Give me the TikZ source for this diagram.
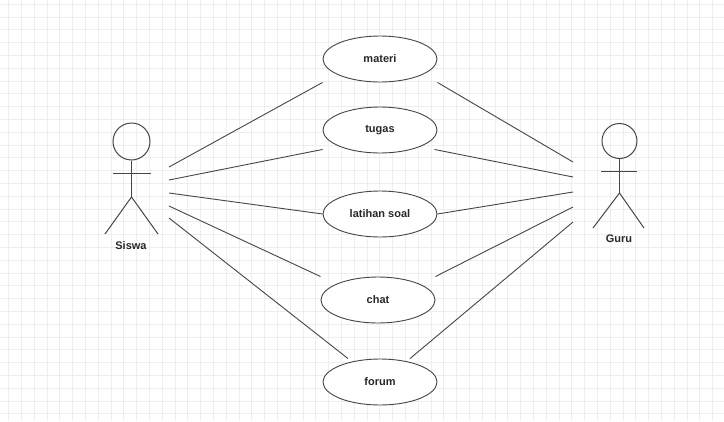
\documentclass[tikz,border=0pt]{standalone}
\usepackage{fontspec}
\setmainfont{Liberation Sans}
\usetikzlibrary{shapes.geometric}
\definecolor{gridc}{RGB}{238,238,238}
\definecolor{linec}{RGB}{70,70,70}
\definecolor{txtc}{RGB}{40,40,40}
\tikzset{
  usecase/.style={ellipse, draw=linec, line width=0.9pt, fill=white, minimum width=114pt, minimum height=46pt, inner sep=0pt, font=\bfseries\fontsize{11}{13}\selectfont, text=txtc},
  conn/.style={draw=linec, line width=0.9pt},
  actorline/.style={draw=linec, line width=1pt},
  actorlabel/.style={font=\bfseries\fontsize{11}{13}\selectfont, text=txtc, inner sep=0pt}
}
\begin{document}
\begin{tikzpicture}[x=1pt,y=-1pt]
\useasboundingbox (0,0) rectangle (724,421);
\fill[white] (0,0) rectangle (724,421);
% grid
\foreach \gx in {0,...,56} {\draw[gridc, line width=0.5pt] ({8.5+\gx*12.8},0) -- ({8.5+\gx*12.8},421);}
\foreach \gy in {0,...,33} {\draw[gridc, line width=0.5pt] (0,{4+\gy*12.8}) -- (724,{4+\gy*12.8});}

% use cases
\node[usecase] (materi) at (380,59) {materi};
\node[usecase] (tugas) at (380,130) {tugas};
\node[usecase] (latihan) at (380,214) {latihan soal};
\node[usecase] (chat) at (378,300) {chat};
\node[usecase] (forum) at (380,382) {forum};

% Siswa actor
\node[circle, draw=linec, line width=1pt, minimum size=37pt, inner sep=0pt] (shead) at (131.5,141.5) {};
\draw[actorline] (shead.south) -- (131.5,197) coordinate (ship);
\draw[actorline] (113,173) -- (151,173);
\draw[actorline] (105,234) -- (ship) -- (158,234);
\node[actorlabel] (siswa) at (131,246) {Siswa};

% Guru actor
\node[circle, draw=linec, line width=1pt, minimum size=35pt, inner sep=0pt] (ghead) at (619.5,141) {};
\draw[actorline] (ghead.south) -- (619.5,193) coordinate (ghip);
\draw[actorline] (601,171) -- (637,171);
\draw[actorline] (593,228) -- (ghip) -- (644,228);
\node[actorlabel] (guru) at (619,239) {Guru};

% connector end points at the actors
\coordinate (s1) at (169,167);
\coordinate (s2) at (169,180);
\coordinate (s3) at (169,193);
\coordinate (s4) at (169,206);
\coordinate (s5) at (169,218);
\coordinate (g1) at (573,162);
\coordinate (g2) at (573,177);
\coordinate (g3) at (573,192);
\coordinate (g4) at (573,207);
\coordinate (g5) at (573,222);

\draw[conn] (s1) -- (materi.west |- materi.south);
\draw[conn] (s2) -- ([yshift=4pt]tugas.west |- tugas.south);
\draw[conn] (s3) -- (latihan.west);
\draw[conn] (s4) -- (chat.west |- chat.north);
\draw[conn] (s5) -- ([xshift=-32pt]forum.north);
\draw[conn] (g1) -- (materi.east |- materi.south);
\draw[conn] (g2) -- ([yshift=4pt,xshift=-3pt]tugas.east |- tugas.south);
\draw[conn] (g3) -- (latihan.east);
\draw[conn] (g4) -- (chat.east |- chat.north);
\draw[conn] (g5) -- ([xshift=30pt]forum.north);
\end{tikzpicture}
\end{document}
